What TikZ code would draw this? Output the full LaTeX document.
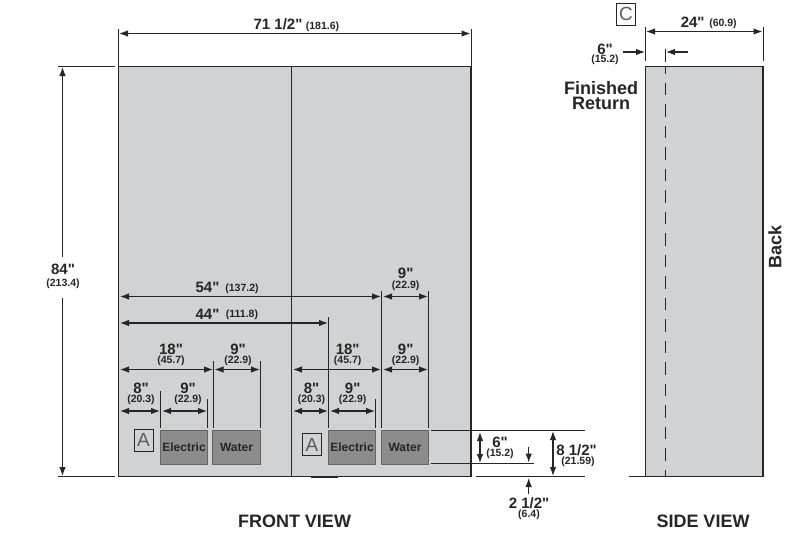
\documentclass[tikz,border=0pt]{standalone}
\usepackage{fontspec}
\newfontfamily\plainsans{Liberation Sans}
\usetikzlibrary{arrows.meta}
\definecolor{panel}{HTML}{D1D2D4}
\definecolor{boxfill}{HTML}{8C8C8C}
\definecolor{ink}{HTML}{262626}
\tikzset{
  panelbox/.style={draw=ink,fill=panel,line width=1.1pt},
  utilbox/.style={draw=black!60,fill=boxfill,line width=.6pt,minimum width=#1,minimum height=34pt,inner sep=0pt,text=ink,font=\plainsans\fontsize{12}{12}\selectfont\bfseries},
  tagbox/.style={draw=ink,line width=.7pt,inner sep=0pt,minimum width=19pt,minimum height=22pt,text=ink!75,font=\plainsans\fontsize{19}{19}\selectfont},
  dimline/.style={draw=ink,line width=1.1pt,{Latex[length=9pt,width=6.5pt]}-{Latex[length=9pt,width=6.5pt]}},
  onearrow/.style={draw=ink,line width=1.1pt,-{Latex[length=9pt,width=6.5pt]}},
  extline/.style={draw=ink,line width=.9pt},
  big/.style={inner sep=0pt,text=ink,font=\plainsans\fontsize{15}{15}\selectfont\bfseries},
  small/.style={inner sep=0pt,text=ink,font=\plainsans\fontsize{10.5}{10.5}\selectfont\bfseries},
  title/.style={inner sep=0pt,text=ink,font=\plainsans\fontsize{18}{18}\selectfont\bfseries},
  util/.style={utilbox=47.5pt}
}
\begin{document}
\begin{tikzpicture}[x=1pt,y=-1pt]
\useasboundingbox (0,0) rectangle (800,546);
% Front panel
\draw[panelbox] (118.5,66.5) rectangle (471,476.5);
\draw[extline] (291.5,66.5) -- (291.5,476.5);
\draw[draw=ink,line width=1.6pt] (311,477) -- (338,477);
% Side panel
\draw[panelbox] (645.5,66.5) rectangle (763,476.5);
\draw[extline,dash pattern=on 12.5pt off 9pt,dash phase=5.5pt] (665.5,66.5) -- (665.5,476);
\draw[extline] (665.5,49) -- (665.5,61.5);
\draw[extline] (629,476.5) -- (645.5,476.5);
% Utility boxes
\node[util] (e1) at (184,447) {Electric};
\node[util] (w1) at (236.5,447) {Water};
\node[util] (e2) at (352,447) {Electric};
\node[util] (w2) at (405,447) {Water};
\node[tagbox] (a1) at (143.5,440) {A};
\node[tagbox] (a2) at (312,444.5) {A};
\node[tagbox] (c1) at (626,14) {C};
% Overall dimensions
\draw[extline] (118.5,29) -- (118.5,66.5);
\draw[extline] (471,29) -- (471,66.5);
\draw[dimline] (119,33.5) -- (470.5,33.5);
\draw[extline] (58,66.5) -- (115,66.5);
\draw[extline] (58,476.5) -- (115,476.5);
\draw[onearrow] (62.5,257) -- (62.5,67);
\draw[onearrow] (62.5,298) -- (62.5,476);
% Horizontal dimensions, front
\draw[extline] (160.5,391) -- (160.5,428);
\draw[extline] (207.5,399) -- (207.5,428);
\draw[extline] (213.5,361) -- (213.5,428);
\draw[extline] (260.5,361) -- (260.5,428);
\draw[extline] (328.5,317) -- (328.5,428);
\draw[extline] (375.5,399) -- (375.5,428);
\draw[extline] (381.5,291) -- (381.5,428);
\draw[extline] (428.5,291) -- (428.5,428);
\draw[dimline] (120,296.5) -- (381,296.5);
\draw[dimline] (383,296.5) -- (428,296.5);
\draw[dimline] (120,323) -- (328,323);
\draw[dimline] (120,369.5) -- (213,369.5);
\draw[dimline] (214.5,369.5) -- (260,369.5);
\draw[dimline] (293,369.5) -- (381,369.5);
\draw[dimline] (383,369.5) -- (428,369.5);
\draw[dimline] (120,411) -- (160,411);
\draw[dimline] (162,411) -- (207,411);
\draw[dimline] (293,411) -- (328,411);
\draw[dimline] (330,411) -- (375,411);
% Vertical dimensions, right of front view
\draw[extline] (431,430.5) -- (585,430.5);
\draw[extline] (431,463.5) -- (534,463.5);
\draw[extline] (476,476.5) -- (585,476.5);
\draw[dimline] (480,432) -- (480,463);
\draw[dimline] (553,431) -- (553,476);
\draw[onearrow] (528.7,447) -- (528.7,462.5);
\draw[onearrow] (528.7,494) -- (528.7,478);
% Side dimensions
\draw[extline] (645.5,27) -- (645.5,61);
\draw[extline] (763,27) -- (763,61);
\draw[dimline] (646,31.5) -- (762.5,31.5);
\draw[onearrow] (623,52) -- (645,52);
\draw[onearrow] (688,52) -- (666,52);
% Labels
\node[big] (t1) at (278,24) {71 1/2"};
\node[small] (t1s) at (322.5,26.5) {(181.6)};
\node[big] (t2) at (63,269) {84"};
\node[small] (t2s) at (63,284) {(213.4)};
\node[big] (t3) at (207.5,287) {54"};
\node[small] (t3s) at (242,288.5) {(137.2)};
\node[big] (t4) at (207.5,314) {44"};
\node[small] (t4s) at (242,315) {(111.8)};
\node[big] (t5) at (171,349) {18"};
\node[small] (t5s) at (171,361) {(45.7)};
\node[big] (t6) at (238,349) {9"};
\node[small] (t6s) at (238,361) {(22.9)};
\node[big] (t7) at (141,388) {8"};
\node[small] (t7s) at (141,400) {(20.3)};
\node[big] (t8) at (188,388) {9"};
\node[small] (t8s) at (188,400) {(22.9)};
\node[big] (t9) at (311.5,388) {8"};
\node[small] (t9s) at (311.5,400) {(20.3)};
\node[big] (t10) at (352.7,388) {9"};
\node[small] (t10s) at (352.7,400) {(22.9)};
\node[big] (t11) at (347.7,349) {18"};
\node[small] (t11s) at (347.7,361) {(45.7)};
\node[big] (t12) at (405.7,349) {9"};
\node[small] (t12s) at (405.7,361) {(22.9)};
\node[big] (t13) at (405.7,273.5) {9"};
\node[small] (t13s) at (405.7,286) {(22.9)};
\node[big] (t14) at (500,442) {6"};
\node[small] (t14s) at (500,454) {(15.2)};
\node[big] (t15) at (576.5,450) {8 1/2"};
\node[small] (t15s) at (578,462) {(21.59)};
\node[big] (t16) at (529,503) {2 1/2"};
\node[small] (t16s) at (529,515) {(6.4)};
\node[big] (t17) at (692.7,22) {24"};
\node[small] (t17s) at (723,24) {(60.9)};
\node[big] (t18) at (605,49) {6"};
\node[small] (t18s) at (605,60) {(15.2)};
\node[title] (t19) at (601,88.5) {Finished};
\node[title] (t20) at (601,103.5) {Return};
\node[title,rotate=90] (t21) at (775,247) {Back};
\node[title] (t22) at (294.5,521) {FRONT VIEW};
\node[title] (t23) at (703,521) {SIDE VIEW};
\end{tikzpicture}
\end{document}
